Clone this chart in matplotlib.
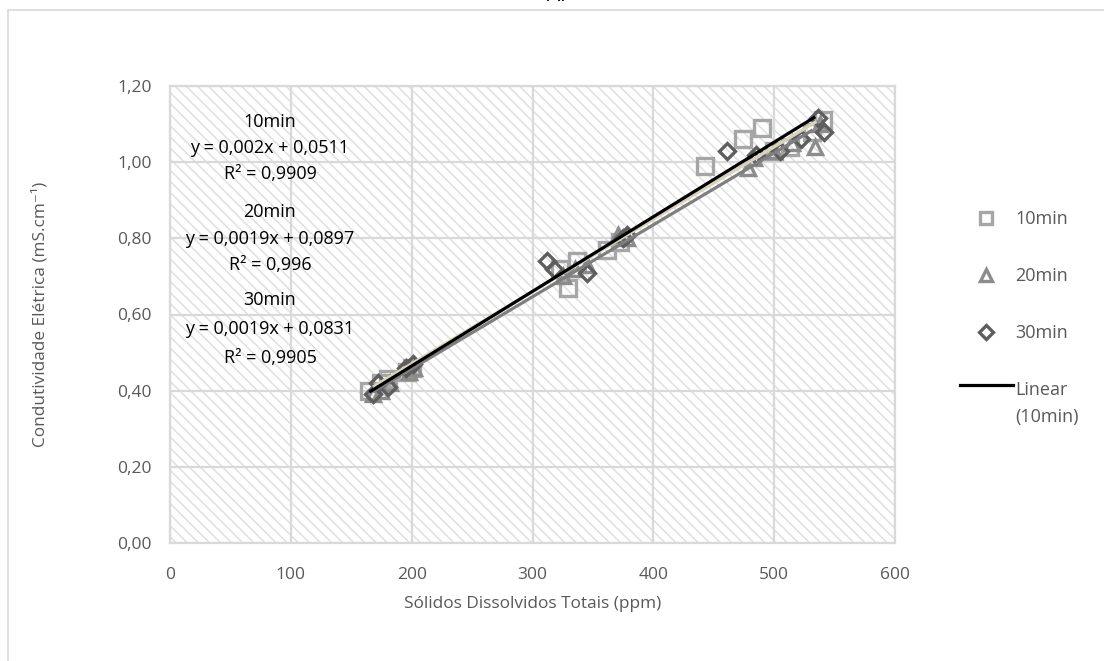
import matplotlib
matplotlib.use("Agg")
import matplotlib.pyplot as plt
import numpy as np
from matplotlib.patches import Rectangle
from matplotlib.lines import Line2D
from matplotlib.legend_handler import HandlerLine2D

plt.rcParams['font.family'] = ['Open Sans', 'DejaVu Sans']
plt.rcParams['hatch.linewidth'] = 1.1

# ---------------- data ----------------
x10 = [165, 175, 180, 196, 200, 323, 329, 337, 362, 372, 443, 474, 490, 500, 513, 531, 540]
y10 = [0.40, 0.42, 0.43, 0.45, 0.46, 0.72, 0.67, 0.74, 0.77, 0.79, 0.99, 1.06, 1.09, 1.03, 1.04, 1.08, 1.11]

x20 = [168, 175, 182, 198, 202, 325, 335, 345, 371, 378, 478, 483, 500, 515, 534, 538]
y20 = [0.39, 0.40, 0.42, 0.45, 0.46, 0.70, 0.72, 0.73, 0.81, 0.80, 0.985, 1.01, 1.03, 1.05, 1.04, 1.10]

x30 = [168, 172, 180, 195, 201, 312, 318, 345, 375, 378, 461, 485, 505, 522, 536, 541]
y30 = [0.39, 0.42, 0.41, 0.46, 0.47, 0.74, 0.72, 0.71, 0.80, 0.81, 1.03, 1.02, 1.03, 1.06, 1.115, 1.08]

series_names = ['10min', '20min', '30min']
eq_labels = ['y = 0,002x + 0,0511', 'y = 0,0019x + 0,0897', 'y = 0,0019x + 0,0831']
r2_labels = ['R² = 0,9909', 'R² = 0,996', 'R² = 0,9905']
xticks = [0, 100, 200, 300, 400, 500, 600]
yticks = [0.0, 0.2, 0.4, 0.6, 0.8, 1.0, 1.2]

# ---------------- styles ----------------
marker_cols = ['#a6a6a6', '#8c8c8c', '#5e5e5e']
markers = ['s', '^', 'D']
msizes = [11, 10, 8.5]
line_cols = ['#000000', '#7f7f7f', '#d8d3bd']
txt_col = '#595959'
grid_col = '#d9d9d9'

W, H = 1104, 661
fig = plt.figure(figsize=(W / 100, H / 100), dpi=100)
ax = fig.add_axes([170 / W, 1 - 543 / H, 725 / W, 457 / H])
ax.set_xlim(0, 600)
ax.set_ylim(0, 1.2)
ax.patch.set_visible(False)
ax.add_patch(Rectangle((0, 0), 1, 1, transform=ax.transAxes, facecolor='white',
                       edgecolor='#e0e0e0', hatch='\\\\\\', lw=0, zorder=0))
ax.set_axisbelow(True)
ax.grid(True, color=grid_col, lw=1.6, zorder=0.5)
for s in ax.spines.values():
    s.set_color(grid_col)
    s.set_linewidth(1.6)
ax.set_xticks(xticks)
ax.set_yticks(yticks)
ax.set_yticklabels([f"{v:.2f}".replace('.', ',') for v in yticks])
ax.tick_params(length=0, labelsize=12.5, colors=txt_col)
ax.tick_params(axis='x', pad=17)
ax.tick_params(axis='y', pad=13)

xs = [x10, x20, x30]
ys = [y10, y20, y30]
for i in range(3):
    ax.plot(xs[i], ys[i], linestyle='none', marker=markers[i], ms=msizes[i],
            mfc='none', mec=marker_cols[i], mew=2.4, zorder=3)
for i in [2, 1, 0]:
    coef = np.polyfit(xs[i], ys[i], 1)
    xl = np.array([min(xs[i]), max(xs[i]) - 6])
    ax.plot(xl, np.polyval(coef, xl), color=line_cols[i], lw=2.3, zorder=4,
            solid_capstyle='butt')

ax.set_xlabel('Sólidos Dissolvidos Totais (ppm)', fontsize=12.4, color=txt_col, labelpad=10)
ax.set_ylabel('Condutividade Elétrica (mS.cm⁻¹)', fontsize=12.4, color=txt_col, labelpad=50)

# equation texts
ys_txt = [[122, 148, 174], [212, 239, 265], [300, 329, 358]]
for i in range(3):
    for t, yp in zip([series_names[i], eq_labels[i], r2_labels[i]], ys_txt[i]):
        fig.text(270 / W, 1 - yp / H, t, ha='center', va='center', fontsize=13, color='black')


class UpLine(HandlerLine2D):
    def create_artists(self, legend, orig_handle, xdescent, ydescent, width, height,
                       fontsize, trans):
        arts = super().create_artists(legend, orig_handle, xdescent, ydescent, width,
                                      height, fontsize, trans)
        for a in arts:
            a.set_ydata(np.asarray(a.get_ydata()) + 1.05 * fontsize)
        return arts


# legend
handles = [Line2D([], [], linestyle='none', marker=markers[i], ms=msizes[i] * 0.85,
                  mfc='none', mec=marker_cols[i], mew=2.4) for i in range(3)]
lin = Line2D([], [], color='black', lw=2.3)
handles.append(lin)
labels = series_names + ['Linear\n(10min)']
leg = ax.legend(handles, labels, loc='upper left', bbox_to_anchor=(944 / W, 1 - 194 / H),
                bbox_transform=fig.transFigure, frameon=False, fontsize=13,
                labelcolor=txt_col, handlelength=2.9, handletextpad=0.15, labelspacing=2.15,
                handler_map={lin: UpLine()})
for t in leg.get_texts():
    t.set_linespacing(1.65)

# chart border and cut-off title
fig.patches.append(Rectangle((8 / W, -0.05), 1.2, 1 - 10 / H + 0.05, transform=fig.transFigure,
                             facecolor='none', edgecolor='#d9d9d9', lw=1.2))
fig.text(556 / W, 1 - 6 / H, 'Al', ha='center', va='bottom', fontsize=15, color='black')

fig.savefig('out.png', dpi=100)
